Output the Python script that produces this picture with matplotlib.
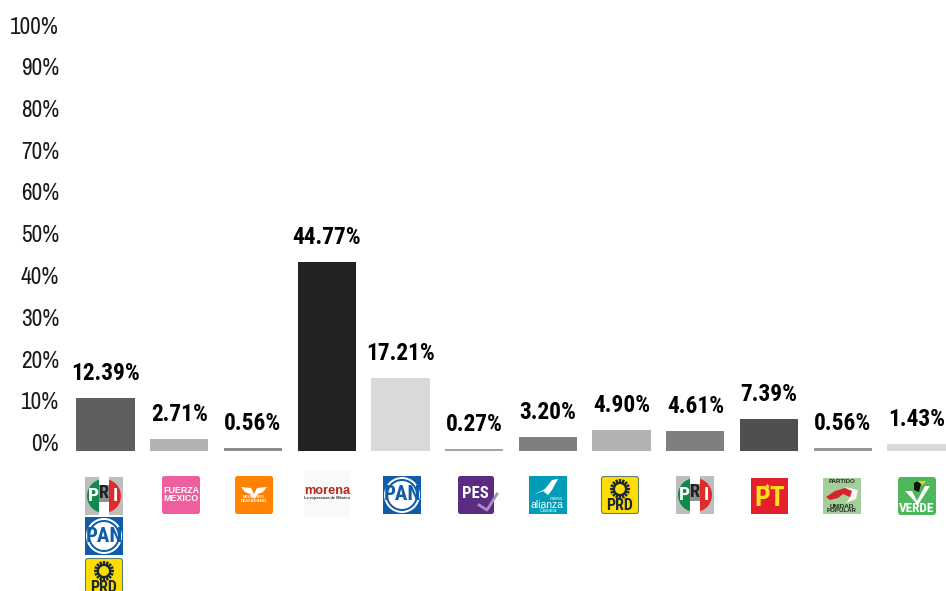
# -*- coding: utf-8 -*-
import numpy as np
import matplotlib
matplotlib.use('Agg')
import matplotlib.pyplot as plt
from matplotlib.patches import Rectangle, FancyBboxPatch, Circle, Wedge, Polygon

W = 946
H = 591

# valores
partidos = ['PRI-PAN-PRD', 'Fuerza Mexico', 'MC', 'Morena', 'PAN', 'PES',
            'Nueva Alianza', 'PRD', 'PRI', 'PT', 'PUP', 'Verde']
valores = [12.39, 2.71, 0.56, 44.77, 17.21, 0.27, 3.20, 4.90, 4.61, 7.39, 0.56, 1.43]
grises = ['#5f5f5f', '#b2b2b2', '#8c8c8c', '#222222', '#d9d9d9', '#a6a6a6',
          '#7f7f7f', '#b2b2b2', '#7f7f7f', '#4f4f4f', '#969696', '#d9d9d9']
ticks_y = [0, 10, 20, 30, 40, 50, 60, 70, 80, 90, 100]

COND = ['Roboto Condensed', 'Liberation Sans', 'DejaVu Sans']
NARROW = ['Archivo Narrow', 'Roboto Condensed', 'Liberation Sans', 'DejaVu Sans']
LIB = ['Liberation Sans', 'DejaVu Sans']

fig = plt.figure(figsize=(W / 100, H / 100), dpi=100, facecolor='white')

# barras, la base queda medio pixel bajo el cero
base = -0.12
ax = fig.add_axes([0, (H - 451) / H, 1, 420.5 / H])
ax.bar(range(len(valores)), np.array(valores) - base, bottom=base, width=0.79, color=grises)
ax.set_xlim(-105.5 / 73.73, (W - 105.5) / 73.73)
ax.set_ylim(base, 100)
ax.axis('off')
for i in range(len(valores)):
    ax.annotate('%.2f%%' % valores[i], (i, valores[i]), xytext=(0, 13),
                textcoords='offset points', ha='center', va='baseline',
                fontsize=16.8, fontweight='bold', color='black', family=COND)

# eje y, va un poco corrido respecto a las barras
ay = fig.add_axes([59 / W, (H - 442.5) / H, 0.01, 417.5 / H])
ay.set_ylim(0, 100)
ay.set_xticks([])
ay.set_yticks(ticks_y)
ay.set_yticklabels(['%d%%' % t for t in ticks_y], fontsize=16.8, color='#1a1a1a', family=NARROW)
ay.tick_params(axis='y', length=0, pad=0)
ay.patch.set_visible(False)
for s in ay.spines.values():
    s.set_visible(False)

# logos, en pixeles
lg = fig.add_axes([0, 0, 1, 1])
lg.set_xlim(0, W)
lg.set_ylim(H, 0)
lg.axis('off')
lg.patch.set_visible(False)


def caja(x, y, w, h, color, radio=2.5, borde='none'):
    lg.add_patch(FancyBboxPatch((x + radio, y + radio), w - 2 * radio, h - 2 * radio,
                                boxstyle='round,pad=%f,rounding_size=%f' % (radio, radio),
                                fc=color, ec=borde, lw=0.8, clip_on=False))


def txt(x, y, s, size, color, peso='bold', fam=LIB):
    lg.text(x, y, s, fontsize=size, color=color, fontweight=peso, ha='center',
            va='center', family=fam)


def pri(x, y):
    lg.add_patch(Rectangle((x, y), 38, 38, fc='#bcbec0'))
    cx, cy = x + 19, y + 19
    lg.add_patch(Wedge((cx, cy), 17, 90, 270, fc='#0f8a4a'))
    lg.add_patch(Wedge((cx, cy), 17, -90, 90, fc='#e02b2e'))
    lg.add_patch(Rectangle((x + 14, y), 10, 38, fc='white'))
    lg.add_patch(Rectangle((x + 14, y + 8), 10, 17, fc='#8f9092'))
    txt(x + 8, y + 19, 'P', 14, 'white', fam=COND)
    txt(x + 19, y + 16, 'R', 13, '#222222', fam=COND)
    txt(x + 30, y + 19, 'I', 14, 'white', fam=COND)


def pan(x, y):
    lg.add_patch(Rectangle((x, y), 38, 38, fc='#0f5ca8'))
    cx, cy = x + 19, y + 19
    lg.add_patch(Circle((cx, cy), 18, fc='white'))
    lg.add_patch(Circle((cx, cy), 16, fc='#0f5ca8'))
    lg.add_patch(Circle((cx, cy), 14, fc='white'))
    txt(cx, cy, 'PAN', 15, '#0f5ca8', fam=COND)


def prd(x, y):
    caja(x + 0.5, y + 0.5, 37, 37, '#ffdd00', radio=2.5, borde='#5f7f70')
    cx, cy = x + 19, y + 13
    for a in np.linspace(0, 2 * np.pi, 16, endpoint=False):
        lg.plot([cx + 5.5 * np.cos(a), cx + 10 * np.cos(a)],
                [cy + 5.5 * np.sin(a), cy + 10 * np.sin(a)],
                color='#1c2b33', lw=1.7, solid_capstyle='butt', clip_on=False)
    lg.add_patch(Circle((cx, cy), 6, fc='#ffdd00', ec='#1c2b33', lw=1.5, clip_on=False))
    txt(x + 19, y + 30, 'PRD', 11.5, '#1c2b33', fam=COND)


pri(85, 477)
pan(85, 517)
prd(85, 558)

# fuerza mexico
caja(162, 476, 38, 38, '#ee5fa0')
txt(181, 490.5, 'FUERZA', 6.4, 'white')
txt(181, 498.5, 'MEXICO', 6.4, 'white')

# movimiento ciudadano
caja(235, 476, 38, 38, '#ff8300')
lg.add_patch(Polygon([[241, 487], [251, 488], [254, 494], [257, 488], [267, 487],
                      [263, 492], [258, 494], [254, 499], [250, 494], [245, 492]], fc='white'))
txt(254, 497.5, 'MOVIMIENTO', 2.4, 'white')
txt(254, 501, 'CIUDADANO', 3.2, 'white')

# morena
lg.add_patch(Rectangle((304, 470), 46, 47, fc='#f9f9f9'))
txt(327, 490.5, 'morena', 9.2, '#b5261e')
txt(327, 498, 'La esperanza de México', 2.9, '#333333')

pan(383, 476)

# pes
caja(458, 476, 36, 38, '#5b2c82')
txt(475, 493, 'PES', 12, 'white', fam=COND)
lg.plot([479, 487, 497], [505, 510, 494], color='#a88cc4', lw=2, clip_on=False)

# nueva alianza
lg.add_patch(Rectangle((529, 476), 38, 38, fc='#009db8'))
lg.add_patch(Polygon([[533, 495], [545, 489], [552, 480], [558, 479], [552, 490], [548, 495],
                      [543, 491]], fc='white'))
txt(556, 498.5, 'nueva', 3.3, 'white', peso='normal')
txt(547, 504.5, 'alianza', 7.5, 'white', peso='normal')
txt(548, 511, 'Oaxaca', 3.6, 'white', peso='normal')

prd(601, 476)
pri(676, 476)

# pt
lg.add_patch(Rectangle((751, 478), 37, 36, fc='#e3202b'))
txt(769.5, 499, 'PT', 20, '#ffdf1a', fam=COND)
lg.plot([767], [486], marker='*', ms=4, color='#ffdf1a', mec='none')

# unidad popular
lg.add_patch(Rectangle((823, 478), 38, 36, fc='#a5cf9a'))
txt(842, 481.5, 'PARTIDO', 4.4, '#1f2a1f')
lg.add_patch(Polygon([[845, 487], [858, 490], [856, 499], [846, 503], [851, 496]], fc='#f4f7f2'))
lg.add_patch(Polygon([[826, 497], [835, 491], [845, 488], [852, 491], [850, 497], [843, 494],
                      [838, 498], [830, 500]], fc='#d8232a'))
txt(842, 506.5, 'UNIDAD', 4.6, '#1f2a1f')
txt(842, 510.8, 'POPULAR', 4.4, '#1f2a1f')

# verde
caja(898, 477, 38, 38, '#4db85a', radio=3)
lg.add_patch(Polygon([[905, 491], [912, 491], [917, 501], [925, 486], [930, 486], [918, 505]], fc='white'))
lg.add_patch(Polygon([[914, 490], [914, 483], [918, 481], [921, 484], [919, 492]], fc='#111111'))
lg.add_patch(Polygon([[917, 481], [926, 481], [923, 485]], fc='#f2c81c'))
txt(917, 509, 'VERDE', 9.5, 'white', fam=COND)

fig.savefig('out.png', dpi=100, facecolor='white')
